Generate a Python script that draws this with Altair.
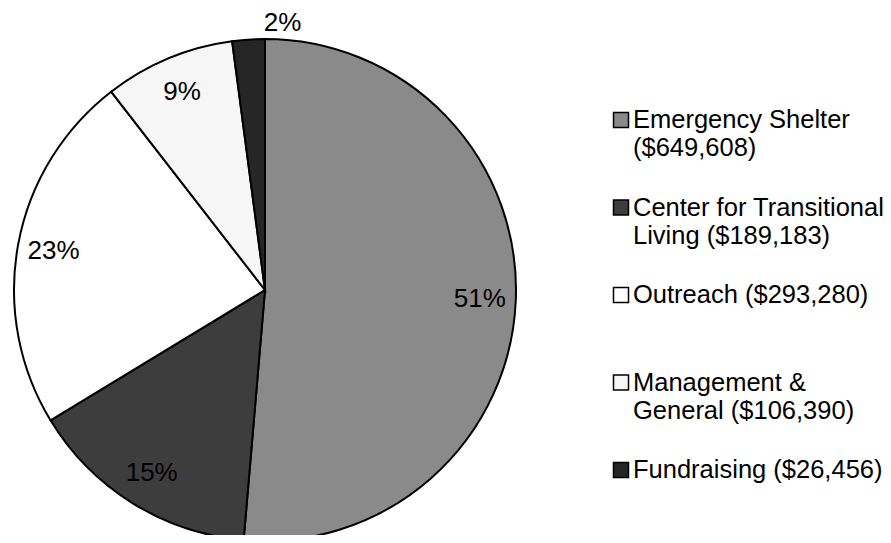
import altair as alt
import pandas as pd

categories = ["Emergency Shelter", "Center for Transitional Living", "Outreach",
              "Management & General", "Fundraising"]
amounts = [649608, 189183, 293280, 106390, 26456]
pct_labels = ["51%", "15%", "23%", "9%", "2%"]
legend_labels = ["Emergency Shelter\n($649,608)",
                 "Center for Transitional\nLiving ($189,183)",
                 "Outreach ($293,280)",
                 "Management &\nGeneral ($106,390)",
                 "Fundraising ($26,456)"]
colors = ["#8a8a8a", "#3d3d3d", "#ffffff", "#f6f6f6", "#262626"]

df = pd.DataFrame({
    "idx": list(range(len(categories))),
    "cat": categories,
    "value": amounts,
    "pct": pct_labels,
    "leg": legend_labels,
})

FONT = "Liberation Sans"
cx, cy, R = 257, 282, 251

color = alt.Color("cat:N", scale=alt.Scale(domain=categories, range=colors), legend=None)
order = alt.Order("idx:Q")

base = alt.Chart(df)

pie = base.mark_arc(outerRadius=R, stroke="black", strokeWidth=2).encode(
    theta=alt.Theta("value:Q", stack=True),
    order=order,
    color=color,
    x=alt.value(cx),
    y=alt.value(cy),
)

labels = base.transform_joinaggregate(
    total="sum(value)"
).transform_calculate(
    lr="datum.value / datum.total < 0.05 ? 268 : 215"
).mark_text(font=FONT, fontSize=26, color="black", align="center", baseline="middle").encode(
    theta=alt.Theta("value:Q", stack=True),
    order=order,
    radius=alt.Radius("lr:Q", scale=None),
    text="pct:N",
    x=alt.value(cx),
    y=alt.value(cy),
)

yscale = alt.Scale(type="point", domain=categories, range=[112, 462], padding=0)

leg_sq = base.mark_point(shape="square", filled=True, size=225, stroke="black",
                         strokeWidth=1.5, opacity=1).encode(
    x=alt.value(613),
    y=alt.Y("cat:N", scale=yscale, axis=None),
    color=color,
)

leg_txt = base.mark_text(font=FONT, fontSize=25.5, color="black", align="left",
                         baseline="alphabetic", dy=8, lineBreak="\n", lineHeight=28).encode(
    x=alt.value(625),
    y=alt.Y("cat:N", scale=yscale, axis=None),
    text="leg:N",
)

chart = alt.layer(pie, labels, leg_sq, leg_txt).properties(
    width=875, height=527, padding=0, autosize="none", background="white"
).configure_view(stroke=None)

chart.save("out.html", embed_options={"renderer": "svg", "actions": False})
